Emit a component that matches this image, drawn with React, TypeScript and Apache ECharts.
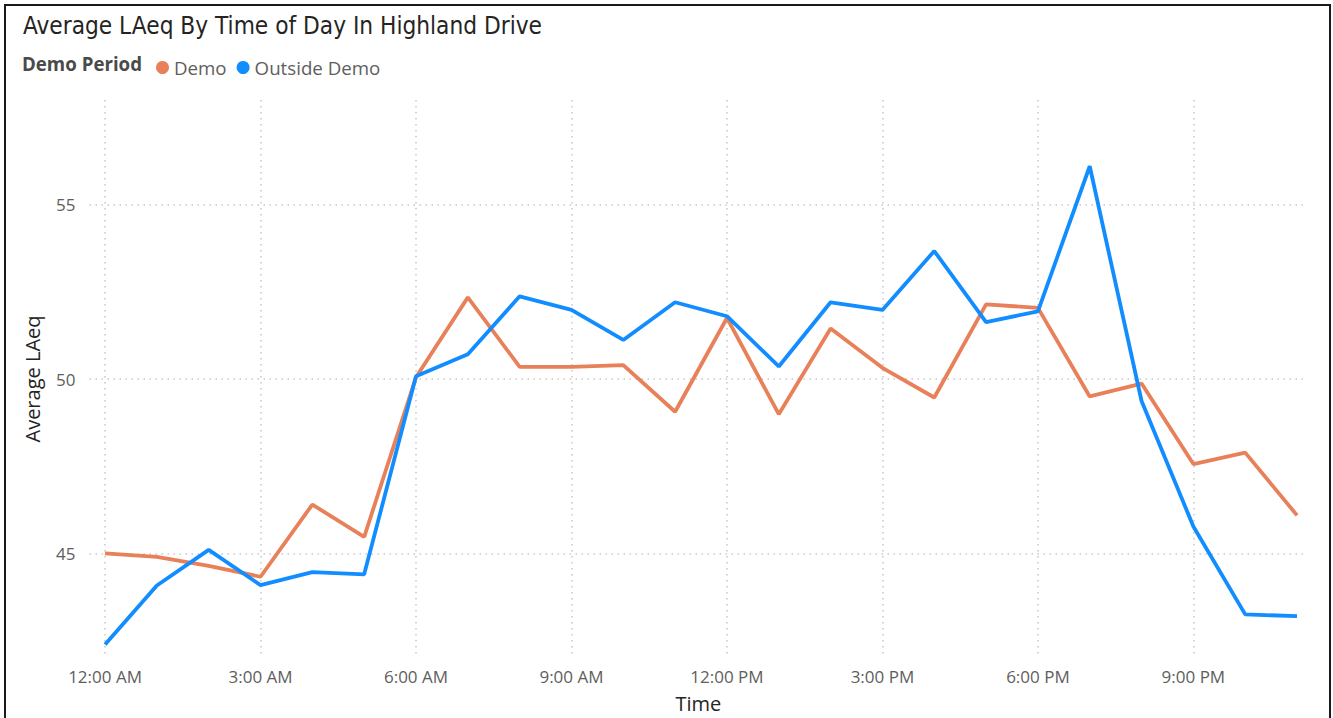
import React, { useEffect, useRef } from "react";
import * as echarts from "echarts";

const hours = [0, 1, 2, 3, 4, 5, 6, 7, 8, 9, 10, 11, 12, 13, 14, 15, 16, 17, 18, 19, 20, 21, 22, 23];
const hourLabels = [
  "12:00 AM", "1:00 AM", "2:00 AM", "3:00 AM", "4:00 AM", "5:00 AM",
  "6:00 AM", "7:00 AM", "8:00 AM", "9:00 AM", "10:00 AM", "11:00 AM",
  "12:00 PM", "1:00 PM", "2:00 PM", "3:00 PM", "4:00 PM", "5:00 PM",
  "6:00 PM", "7:00 PM", "8:00 PM", "9:00 PM", "10:00 PM", "11:00 PM",
];
const demo = [
  45.0, 44.9, 44.64, 44.33, 46.4, 45.47, 50.05, 52.34, 50.35, 50.35, 50.4, 49.06,
  51.75, 48.99, 51.45, 50.32, 49.47, 52.14, 52.04, 49.5, 49.87, 47.56, 47.89, 46.09,
];
const outsideDemo = [
  42.39, 44.08, 45.1, 44.09, 44.46, 44.4, 50.08, 50.71, 52.37, 51.98, 51.12, 52.2,
  51.8, 50.36, 52.2, 51.98, 53.67, 51.63, 51.94, 56.1, 49.37, 45.77, 43.25, 43.2,
];
const xTickHours = [0, 3, 6, 9, 12, 15, 18, 21];
const yTickValues = [45, 50, 55];
const seriesNames = ["Demo", "Outside Demo"];
const seriesColors = ["#E8805A", "#118DFF"];

const FONT = '"Open Sans", "Noto Sans", sans-serif';

export default function App() {
  const ref = useRef<HTMLDivElement>(null);
  useEffect(() => {
    if (!ref.current) return;
    const chart = echarts.init(ref.current, null, { renderer: "svg" });
    const gridLine = { show: true, lineStyle: { color: "#C8C6C4", width: 1.5, type: [1.5, 4.5] as any } };
    chart.setOption({
      animation: false,
      backgroundColor: "#ffffff",
      title: {
        text: "Average LAeq By Time of Day In Highland Drive",
        left: 18,
        top: 9,
        textStyle: { fontFamily: '"DejaVu Sans Condensed", Roboto, sans-serif', fontSize: 24.2, fontWeight: "normal", color: "#252423" },
      },
      graphic: [
        {
          type: "text",
          left: 22,
          top: 54,
          style: { text: "Demo Period", font: `bold 18.7px ${FONT}`, fill: "#4a4a4a" },
        },
      ],
      legend: {
        left: 151,
        top: 53,
        icon: "circle",
        itemWidth: 13,
        itemHeight: 13,
        itemGap: 10,
        data: seriesNames,
        textStyle: { fontFamily: FONT, fontSize: 18.7, color: "#605E5C" },
      },
      grid: { left: 89.5, right: 25.6, top: 100, bottom: 60 },
      xAxis: {
        type: "value",
        min: -0.3,
        max: 23.2,
        name: "Time",
        nameLocation: "middle",
        nameGap: 35,
        nameTextStyle: { fontFamily: FONT, fontSize: 20, color: "#252423" },
        axisLine: { show: false },
        axisTick: { show: false, customValues: xTickHours },
        axisLabel: {
          customValues: xTickHours,
          formatter: (v: number) => hourLabels[Math.round(v)],
          fontFamily: FONT,
          fontSize: 17,
          color: "#605E5C",
          margin: 10,
        },
        splitLine: gridLine,
      },
      yAxis: {
        type: "value",
        min: 42,
        max: 58,
        name: "Average LAeq",
        nameLocation: "middle",
        nameGap: 47,
        nameTextStyle: { fontFamily: FONT, fontSize: 20, color: "#252423" },
        axisLine: { show: false },
        axisTick: { show: false, customValues: yTickValues },
        axisLabel: {
          customValues: yTickValues,
          fontFamily: FONT,
          fontSize: 17,
          color: "#605E5C",
          margin: 14,
        },
        splitLine: gridLine,
      },
      series: [
        {
          name: seriesNames[0],
          type: "line",
          data: hours.map((h, i) => [h, demo[i]]),
          showSymbol: false,
          color: seriesColors[0],
          lineStyle: { width: 3.8, color: seriesColors[0] },
        },
        {
          name: seriesNames[1],
          type: "line",
          data: hours.map((h, i) => [h, outsideDemo[i]]),
          showSymbol: false,
          color: seriesColors[1],
          lineStyle: { width: 3.8, color: seriesColors[1] },
        },
      ],
    });
    return () => chart.dispose();
  }, []);
  return (
    <div style={{ position: "fixed", left: 0, top: 0, width: 1333, height: 718, background: "#fff", overflow: "hidden" }}>
      <div ref={ref} style={{ position: "absolute", left: 0, top: 0, width: 1333, height: 718 }} />
      <div
        style={{
          position: "absolute",
          left: 4,
          top: 4,
          width: 1323,
          height: 730,
          border: "2px solid #1a1a1a",
          pointerEvents: "none",
        }}
      />
    </div>
  );
}
